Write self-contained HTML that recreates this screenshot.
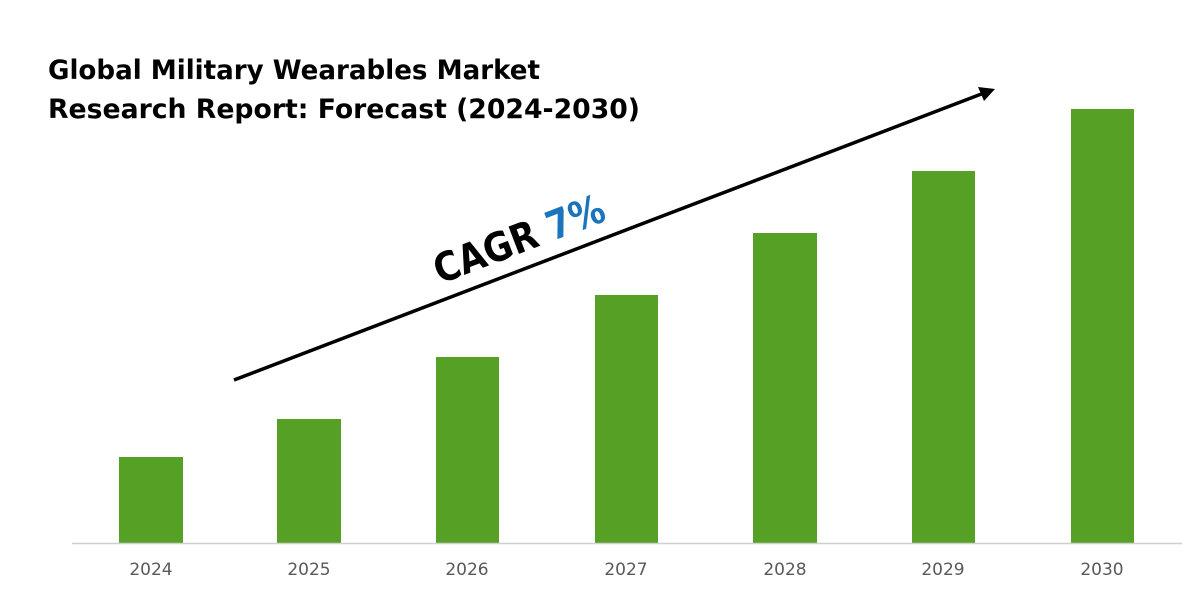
<!DOCTYPE html>
<html><head><meta charset="utf-8"><style>
html,body{margin:0;padding:0;background:#fff;}
body{width:1200px;height:600px;position:relative;overflow:hidden;font-family:"Liberation Sans","DejaVu Sans",sans-serif;}
</style></head><body>
<svg width="1200" height="600" viewBox="0 0 1200 600" xmlns="http://www.w3.org/2000/svg">
<text x="48" y="79" font-family="DejaVu Sans, Liberation Sans, sans-serif" font-weight="bold" font-size="27" fill="#000" textLength="492" lengthAdjust="spacingAndGlyphs">Global Military Wearables Market</text>
<text x="48" y="118" font-family="DejaVu Sans, Liberation Sans, sans-serif" font-weight="bold" font-size="27" fill="#000" textLength="592" lengthAdjust="spacingAndGlyphs">Research Report: Forecast (2024-2030)</text>
<g fill="#56a125">
<rect x="119" y="457" width="64" height="86"/>
<rect x="277" y="419" width="64" height="124"/>
<rect x="436" y="357" width="63" height="186"/>
<rect x="595" y="295" width="63" height="248"/>
<rect x="753" y="233" width="64" height="310"/>
<rect x="912" y="171" width="63" height="372"/>
<rect x="1071" y="109" width="63" height="434"/>
</g>
<line x1="72" y1="543.5" x2="1182" y2="543.5" stroke="#d0d0d0" stroke-width="1.5"/>
<g font-family="DejaVu Sans, Liberation Sans, sans-serif" font-size="17" fill="#595959" text-anchor="middle">
<text x="151" y="575">2024</text><text x="309" y="575">2025</text><text x="467" y="575">2026</text>
<text x="626" y="575">2027</text><text x="785" y="575">2028</text><text x="943" y="575">2029</text><text x="1102" y="575">2030</text>
</g>
<line x1="234" y1="380" x2="984" y2="93" stroke="#000" stroke-width="3.5"/>
<polygon points="995,89 978,87 984,101" fill="#000"/>
<g transform="translate(524,252) rotate(-21)">
<text x="0" y="0" text-anchor="middle" font-family="DejaVu Sans, Liberation Sans, sans-serif" font-weight="bold" font-size="40" fill="#000" textLength="180" lengthAdjust="spacingAndGlyphs">CAGR <tspan fill="#1a75bc">7%</tspan></text>
</g>
</svg>
</body></html>
